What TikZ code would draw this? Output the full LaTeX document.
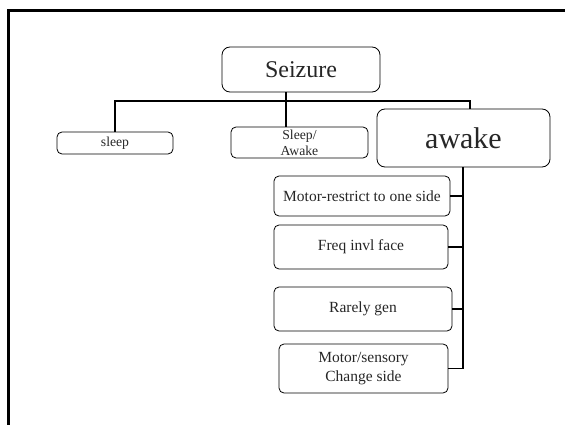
\documentclass[tikz,border=0pt]{standalone}
\usepackage{fontspec}
\setmainfont{Liberation Serif}
\tikzset{
  box/.style={draw, line width=0.8pt, rounded corners=5pt, inner sep=0pt, align=center, text=black!85},
  bigbox/.style={box, rounded corners=8pt},
  conn/.style={line width=1.5pt},
  bus/.style={line width=2.8pt},
  frame/.style={line width=2.5pt}
}
\newcommand{\fsm}{\fontsize{13.7}{16}\selectfont}
\newcommand{\fmd}{\fontsize{15.5}{18.5}\selectfont}
\begin{document}
\begin{tikzpicture}[x=1pt,y=-1pt]
\useasboundingbox (0,0) rectangle (565,425);
\draw[frame] (8.5,425) -- (8.5,10.5) -- (565,10.5);
% boxes (center at midpoint of measured extents)
\node[bigbox, minimum width=158pt, minimum height=45pt, font=\fontsize{24}{28}\selectfont] (seizure) at (301,69.5) {Seizure};
\node[box, minimum width=116pt, minimum height=22pt, font=\fsm] (sleep) at (115,143) {sleep};
\node[box, minimum width=137pt, minimum height=31pt, font=\fsm] (sa) at (299.5,142.5) {Sleep/\\Awake};
\node[bigbox, minimum width=173pt, minimum height=58pt, font=\fontsize{30}{34}\selectfont] (awake) at (463.5,138) {awake};
\node[box, minimum width=176pt, minimum height=40pt, font=\fmd] (m1) at (362,196) {Motor-restrict to one side};
\node[box, minimum width=174pt, minimum height=44pt, font=\fmd] (m2) at (361,247) {Freq invl face};
\node[box, minimum width=178pt, minimum height=44pt, font=\fmd] (m3) at (363,309) {Rarely gen};
\node[box, minimum width=169pt, minimum height=49pt, font=\fmd] (m4) at (363.5,368.5) {Motor/sensory\\Change side};
% connectors
\coordinate (hub) at (286,101);
\coordinate (bl) at (115,101);
\coordinate (br) at (470,101);
\coordinate (busx) at (463,0);
\draw[conn] (bl |- sleep.north) -- (bl) -- (br) -- (br |- awake.north);
\draw[conn] (hub |- seizure.south) -- (hub |- sa.north);
\draw[bus] (busx |- awake.south) -- (busx |- m4.east);
\draw[conn] (m1.east) -- (busx |- m1.east);
\draw[conn] (m2.east) -- (busx |- m2.east);
\draw[conn] (m3.east) -- (busx |- m3.east);
\draw[conn] (m4.east) -- ([xshift=1.4pt]busx |- m4.east);
\end{tikzpicture}
\end{document}
